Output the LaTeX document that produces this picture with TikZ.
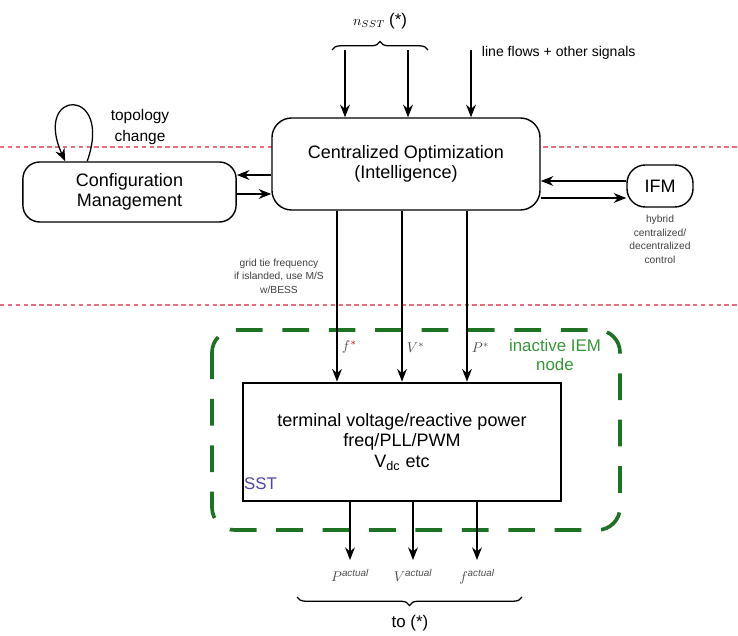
\documentclass[tikz,border=0pt]{standalone}
\usepackage{fontspec}
\setmainfont{Liberation Sans}
\usepackage{tikz}
\usetikzlibrary{positioning}
\usetikzlibrary{calc}
\usetikzlibrary{arrows.meta}
\usetikzlibrary{decorations.pathreplacing}
\definecolor{layerred}{RGB}{232,110,125}
\definecolor{iemgreen}{RGB}{30,115,35}
\definecolor{iemtext}{RGB}{55,150,55}
\definecolor{sstblue}{RGB}{80,70,170}

\begin{document}
\begin{tikzpicture}[x=0.025cm, y=-0.025cm,
    sig/.style={-{Stealth[length=9pt,width=7pt,inset=3pt]}, line width=0.9pt},
    box/.style={draw, fill=white, line width=1pt, align=center, font=\fontsize{12.8}{14.5}\selectfont},
    tiny text/.style={align=center, font=\fontsize{7.3}{9.6}\selectfont, text=black!75},
    layer/.style={layerred, dash pattern=on 3.2pt off 2.4pt, line width=0.9pt},
    brace/.style={decorate, decoration={brace, amplitude=6pt}, line width=0.9pt},
    lab/.style={text=black!70, inner sep=1pt}
  ]
\useasboundingbox (0,0) rectangle (738,636);

% dashed layer borders
\draw[layer] (0,147) -- (738,147);
\draw[layer] (0,305) -- (738,305);

% inactive IEM node frame
\draw[iemgreen, line width=2.6pt, dash pattern=on 19pt off 14pt, rounded corners=16pt]
  (212,330) rectangle (620,530);
\node[text=iemtext, align=center, font=\fontsize{12}{14}\selectfont] (iem) at (555,355) {inactive IEM\\node};

\node[box, rounded corners=14pt, minimum width=6.7cm, minimum height=2.3cm] (opt) at (406,164)
  {Centralized Optimization\\(Intelligence)};
\node[box, rounded corners=12pt, minimum width=5.33cm, minimum height=1.5cm] (cfg) at (129.5,192)
  {Configuration\\Management};
\node[box, rounded corners=13pt, minimum width=1.65cm, minimum height=1.05cm] (ifm) at (660,186) {IFM};
\node[box, line width=2pt, minimum width=7.95cm, minimum height=2.95cm] (sst) at (402,442)
  {terminal voltage/reactive power\\freq/PLL/PWM\\V\textsubscript{dc} etc};
\node[text=sstblue, font=\fontsize{12}{14}\selectfont] (sstname) at ($(sst.south west)+(19,-19)$) {SST};

% inputs from above
\coordinate (n1) at (345,50); \coordinate (n2) at (408,50); \coordinate (n3) at (471,50);
\draw[sig] (n1) -- (n1 |- opt.north); \draw[sig] (n2) -- (n2 |- opt.north);
\draw[sig] (n3) -- (n3 |- opt.north);
\coordinate (bl) at (332,50); \coordinate (br) at (428,50);
\draw[brace] (bl) -- (br);
\node (nsst) at (380,21) {$n_{SST}$ \fontsize{12}{14}\selectfont(*)};
\node[anchor=west, font=\fontsize{10}{12}\selectfont] (flows) at ($(n3)+(6,3)$) {line flows + other signals};

% topology loop
\coordinate (loopout) at ($(cfg.north west)+(65,0)$); \coordinate (loopin) at ($(cfg.north west)+(43,0)$);
\draw[sig] (loopout) .. controls (114,86) and (32,88) .. (loopin);
\node[align=center, font=\fontsize{11}{14.5}\selectfont] (topo) at (140,127) {topology\\change};

% exchange with configuration management and IFM
\draw[sig] (opt.west |- 0,175) -- (cfg.east |- 0,175);
\draw[sig] (cfg.east |- 0,194) -- (opt.west |- 0,194);
\draw[sig] (ifm.west |- 0,181) -- (opt.east |- 0,181);
\draw[sig] (opt.east |- 0,198) -- (ifm.west |- 0,198);
\node[tiny text, below=2pt of ifm] (hybrid) {hybrid\\centralized/\\decentralized\\control};
\node[tiny text] (tie) at (279,276) {grid tie frequency\\if islanded, use M/S\\w/BESS};

% setpoints to the SST
\coordinate (s1) at (337,0); \coordinate (s2) at (402,0); \coordinate (s3) at (467,0);
\draw[sig] (s1 |- opt.south) -- (s1 |- sst.north) node[lab, pos=0.8, right=2pt] {$f^{\textcolor{red!70!black}{*}}$};
\draw[sig] (s2 |- opt.south) -- (s2 |- sst.north) node[lab, pos=0.8, right=2pt] {$V^{*}$};
\draw[sig] (s3 |- opt.south) -- (s3 |- sst.north) node[lab, pos=0.8, right=2pt] {$P^{*}$};

% measured outputs
\coordinate (o1) at (350,560); \coordinate (o2) at (413,560); \coordinate (o3) at (477,560);
\draw[sig] (o1 |- sst.south) -- (o1) node[lab, below=5pt] {$P^{\mathit{actual}}$};
\draw[sig] (o2 |- sst.south) -- (o2) node[lab, below=5pt] {$V^{\mathit{actual}}$};
\draw[sig] (o3 |- sst.south) -- (o3) node[lab, below=5pt] {$f^{\mathit{actual}}$};
\coordinate (bbl) at (297,597); \coordinate (bbr) at (522,597);
\draw[brace] (bbr) -- (bbl);
\node[font=\fontsize{12}{14}\selectfont] (back) at (410,623) {to (*)};
\end{tikzpicture}
\end{document}
